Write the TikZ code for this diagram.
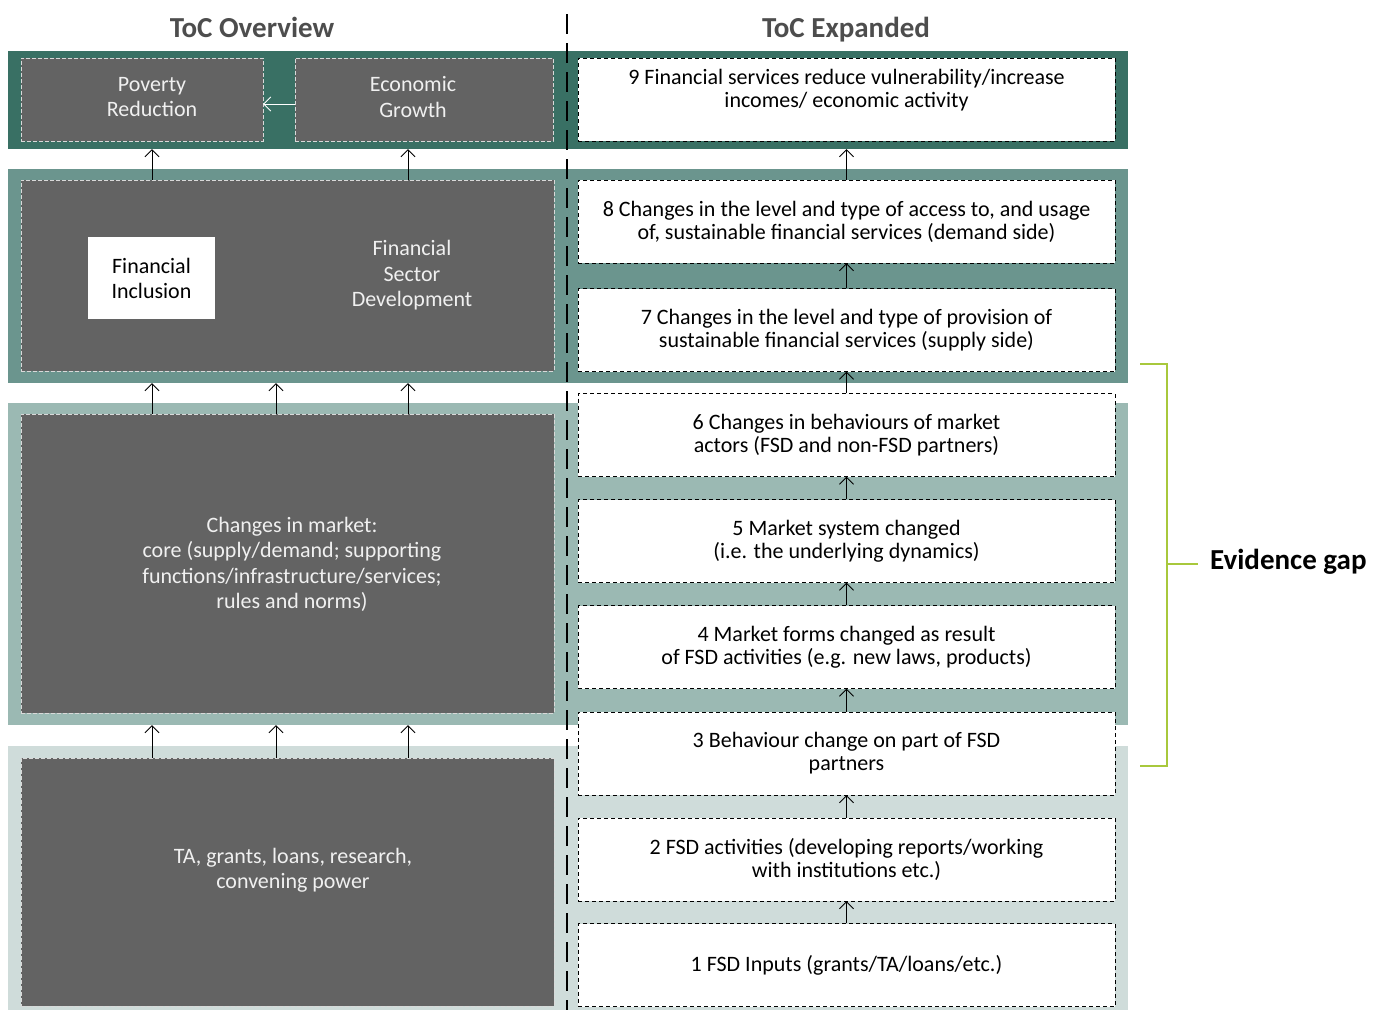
\documentclass[tikz,border=0pt]{standalone}
\usepackage{fontspec}
\setmainfont{Carlito}
\usepackage{tikz}
\usetikzlibrary{arrows.meta}
\usepackage{xcolor}
\definecolor{ColBandA}{RGB}{57,112,100}
\definecolor{ColBandB}{RGB}{107,149,142}
\definecolor{ColBandC}{RGB}{155,185,179}
\definecolor{ColBandD}{RGB}{207,220,218}
\definecolor{ColBox}{RGB}{99,99,99}
\definecolor{ColTitle}{RGB}{77,77,77}
\definecolor{ColGap}{RGB}{168,200,60}
\tikzstyle{Band}=[inner sep=0pt,minimum width=1120pt]
\tikzstyle{BoxOverview}=[draw=white!85!black,dash pattern=on 4pt off 2pt,fill=ColBox,inner sep=0pt]
\tikzstyle{BoxExpanded}=[draw=black,dash pattern=on 4pt off 3pt,fill=white,inner sep=0pt,
minimum width=537pt,minimum height=83pt,align=center,font=\fontsize{22}{23}\selectfont]
\tikzstyle{TextOverview}=[text=white!94!black,align=center,font=\fontsize{22}{25.5}\selectfont]
\tikzstyle{ArrowUp}=[-{Straight Barb[length=7pt,width=14pt]},line width=0.9pt]
\tikzstyle{Title}=[anchor=base,text=ColTitle,font=\fontsize{29}{32}\selectfont\bfseries]
\tikzstyle{GapLine}=[ColGap,line width=1.5pt]

\begin{document}
\begin{tikzpicture}[x=1pt,y=-1pt]
        \useasboundingbox(0,0)rectangle(1389,1010);
        % bands
        \node[Band,fill=ColBandA,minimum height=98pt](bandA)at(568,100){};
        \node[Band,fill=ColBandB,minimum height=214pt](bandB)at(568,276){};
        \node[Band,fill=ColBandC,minimum height=322pt](bandC)at(568,564){};
        \node[Band,fill=ColBandD,minimum height=264pt](bandD)at(568,878){};
        \node[Title](ovT)at(252,37){ToC Overview};
        \node[Title](exT)at(846,37){ToC Expanded};
        % overview
        \node[BoxOverview,minimum width=242pt,minimum height=83pt](pov)at(142,99.5){};
        \node[BoxOverview,minimum width=258pt,minimum height=83pt](eco)at(424,99.5){};
        \node[BoxOverview,minimum width=533pt,minimum height=191pt](fsd)at(287.5,275.5){};
        \node[BoxOverview,minimum width=533pt,minimum height=299pt](mkt)at(287.5,563.5){};
        \node[BoxOverview,minimum width=533pt,minimum height=248pt](inp)at(287.5,882){};
        \node[fill=white,inner sep=0pt,minimum width=127pt,minimum height=82pt,align=center,
        font=\fontsize{22}{25}\selectfont](fi)at(151.5,278){Financial\\Inclusion};
        \node[TextOverview](povT)at(152,97){Poverty\\Reduction};
        \node[TextOverview](ecoT)at(413,97){Economic\\Growth};
        \node[TextOverview](fsdT)at(412,275.5){Financial\\Sector\\Development};
        \node[TextOverview](mktT)at(292,564.5){Changes in market:\\core (supply/demand; supporting\\
        functions/infrastructure/services;\\rules and norms)};
        \node[TextOverview](inpT)at(293,870){TA, grants, loans, research,\\convening power};
        \draw[ArrowUp,white]([yshift=-4.5pt]eco.west)--([yshift=-4.5pt]pov.east);
        \coordinate(colA)at(152,0);
        \coordinate(colB)at(276,0);
        \coordinate(colC)at(408,0);
        \foreach \c in {colA,colC}\draw[ArrowUp](\c|-fsd.north)--(\c|-bandA.south);
        \foreach \c in {colA,colB,colC}{
            \draw[ArrowUp](\c|-mkt.north)--(\c|-bandB.south);
            \draw[ArrowUp](\c|-inp.north)--(\c|-bandC.south);
        }
        % expanded
        \node[BoxExpanded](e9)at(846.5,99.5){9 Financial services reduce vulnerability/increase\\
        incomes/ economic activity\\\mbox{}};
        \node[BoxExpanded](e8)at(846.5,221.5){8 Changes in the level and type of access to, and usage\\
        of, sustainable financial services (demand side)};
        \node[BoxExpanded](e7)at(846.5,330){7 Changes in the level and type of provision of\\
        sustainable financial services (supply side)};
        \node[BoxExpanded](e6)at(846.5,435){6 Changes in behaviours of market\\actors (FSD and non-FSD partners)};
        \node[BoxExpanded](e5)at(846.5,541){5 Market system changed\\(i.e. the underlying dynamics)};
        \node[BoxExpanded](e4)at(846.5,647){4 Market forms changed as result\\of FSD activities (e.g. new laws, products)};
        \node[BoxExpanded](e3)at(846.5,753.5){3 Behaviour change on part of FSD\\partners};
        \node[BoxExpanded](e2)at(846.5,859.5){2 FSD activities (developing reports/working\\with institutions etc.)};
        \node[BoxExpanded](e1)at(846.5,965){1 FSD Inputs (grants/TA/loans/etc.)};
        \foreach \a/\b in {e1/e2,e2/e3,e3/e4,e4/e5,e5/e6,e6/e7,e7/e8}\draw[ArrowUp](\a.north)--(\b.south);
        \draw[ArrowUp](e8.north)--(e8.north|-bandA.south);
        % divider
        \coordinate(divTop)at(567,14);
        \coordinate(divBot)at(567,1010);
        \draw[line width=2.5pt,dash pattern=on 20pt off 9pt](divTop)--(divBot);
        % evidence gap
        \coordinate(gapTop)at(1140,364);
        \coordinate(gapMid)at(1167,564);
        \coordinate(gapBot)at(1140,766);
        \node[anchor=west,inner sep=0pt,inner xsep=12pt,font=\fontsize{29}{32}\selectfont\bfseries](gap)at(1198,562){Evidence gap};
        \draw[GapLine](gapTop)-|(gapMid)|-(gapBot);
        \draw[GapLine](gapMid)--(gap.west|-gapMid);
\end{tikzpicture}
\end{document}
